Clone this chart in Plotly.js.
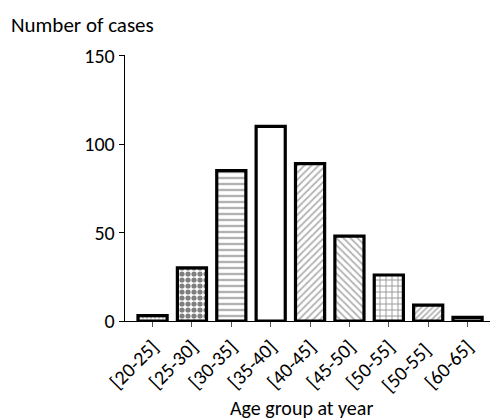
<!DOCTYPE html>
<html>
<head>
<meta charset="utf-8">
<script src="https://cdn.plot.ly/plotly-3.0.1.min.js"></script>
<style>html,body{margin:0;padding:0;background:#fff;}#chart{width:491px;height:420px;}</style>
</head>
<body>
<div id="chart"></div>
<script>
const categories = ["[20-25]", "[25-30]", "[30-35]", "[35-40]", "[40-45]", "[45-50]", "[50-55]", "[50-55] ", "[60-65]"];
const cases = [3, 30, 85, 110, 89, 48, 26, 9, 2];
const patternShapes = [".", ".", "-", "", "/", "\\", "+", "/", "-"];
const patternColors = ["#555", "#000", "#666", "#000", "#666", "#666", "#333", "#666", "#333"];
const patternSizes = [4, 6, 6, 6, 5, 5, 6, 4, 6];
const patternSolidity = [0.45, 0.6, 0.4, 0.3, 0.35, 0.35, 0.3, 0.45, 0.45];

const FONT = "Carlito, Lato, 'Open Sans', sans-serif";

const trace = {
  type: "bar",
  x: categories,
  y: cases,
  width: 0.74,
  marker: {
    color: "#fff",
    line: {color: "#000", width: 3.2},
    pattern: {
      shape: patternShapes,
      fgcolor: patternColors,
      bgcolor: "#fff",
      size: patternSizes,
      solidity: patternSolidity,
      fillmode: "overlay"
    }
  },
  hoverinfo: "x+y"
};

const layout = {
  width: 491,
  height: 420,
  margin: {l: 125, r: 1, t: 55, b: 99},
  paper_bgcolor: "#fff",
  plot_bgcolor: "#fff",
  showlegend: false,
  font: {family: FONT, size: 20, color: "#000"},
  bargap: 0.26,
  xaxis: {
    type: "category",
    range: [-0.7, 8.57],
    showline: true,
    linecolor: "#000",
    linewidth: 1.3,
    ticks: "outside",
    ticklen: 5,
    tickwidth: 1,
    tickcolor: "#555",
    tickangle: -45,
    tickfont: {family: FONT, size: 20, color: "#000"},
    showgrid: false,
    zeroline: false,
    automargin: false
  },
  yaxis: {
    range: [0, 150.4],
    tickvals: [0, 50, 100, 150],
    showline: true,
    linecolor: "#000",
    linewidth: 1.3,
    ticks: "outside",
    ticklen: 5,
    tickwidth: 1,
    tickcolor: "#000",
    tickfont: {family: FONT, size: 20, color: "#000"},
    showgrid: false,
    zeroline: false,
    automargin: false
  },
  annotations: [{
    text: "Number of cases",
    xref: "paper", yref: "paper",
    x: -116/365, y: (321-25)/266,
    xanchor: "left", yanchor: "middle",
    showarrow: false,
    font: {family: FONT, size: 21, color: "#000"}
  }, {
    text: "Age group at year",
    xref: "paper", yref: "paper",
    x: (301-125)/365, y: (321-408)/266,
    xanchor: "center", yanchor: "middle",
    showarrow: false,
    font: {family: FONT, size: 20, color: "#000"}
  }]
};

Plotly.newPlot("chart", [trace], layout, {displayModeBar: false, staticPlot: true});
</script>
</body>
</html>
